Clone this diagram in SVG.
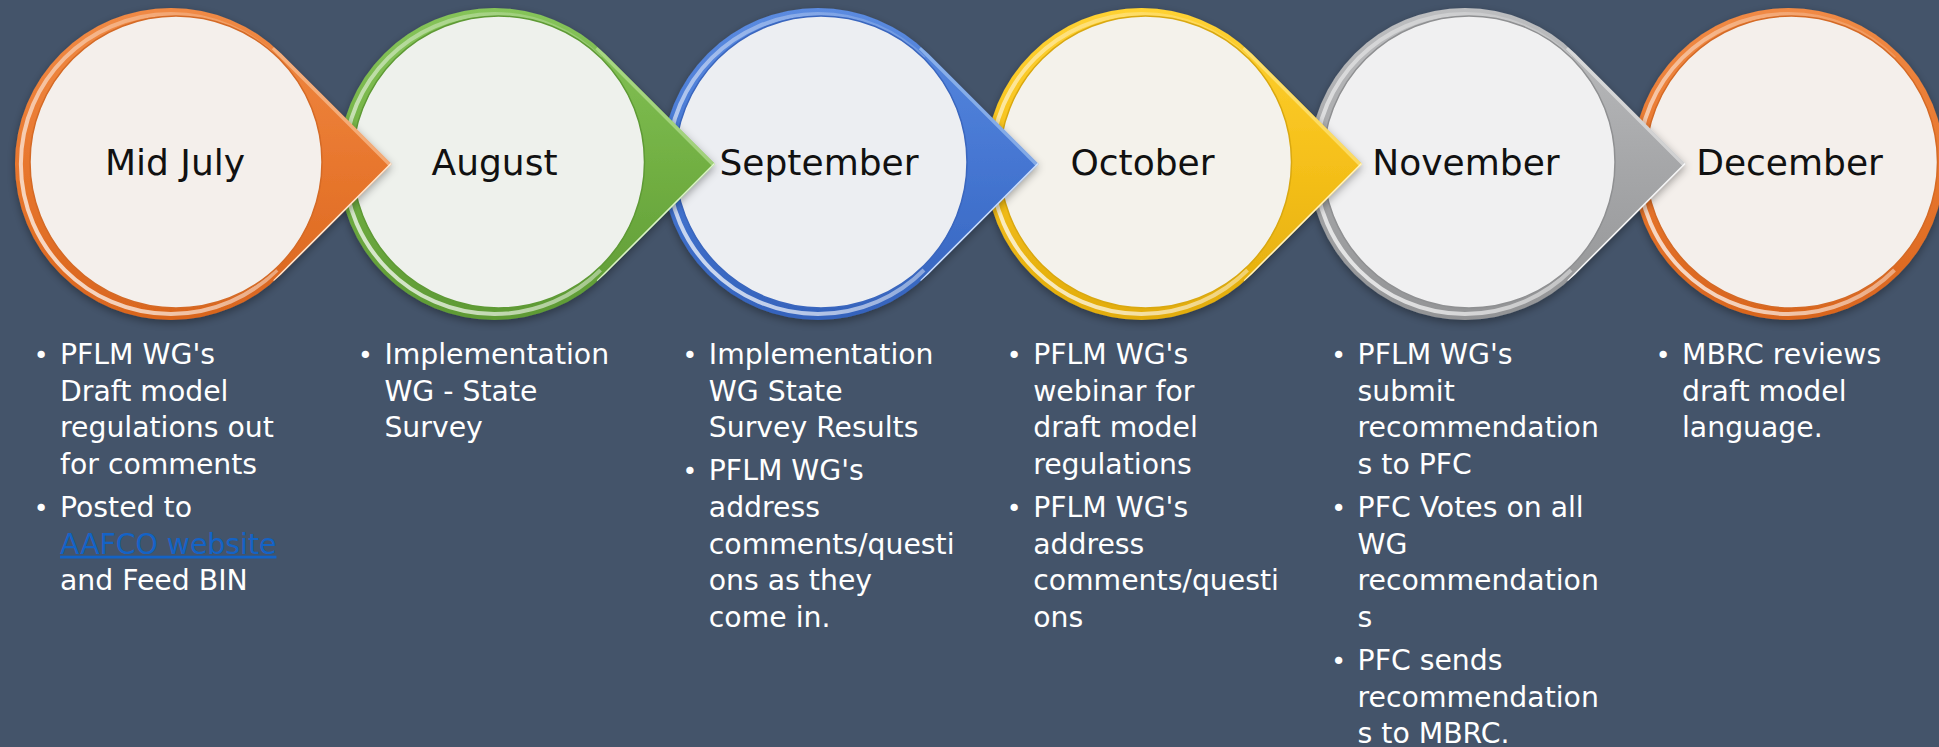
<svg xmlns="http://www.w3.org/2000/svg" xmlns:xlink="http://www.w3.org/1999/xlink" width="1939" height="747" viewBox="0 0 1939 747">
<style>
.h{font-family:"DejaVu Sans","Liberation Sans",sans-serif;font-size:36px;fill:#111;text-anchor:middle}
.b{font-family:"DejaVu Sans","Liberation Sans",sans-serif;font-size:28.3px;fill:#FFFFFF}
.d{font-family:"DejaVu Sans","Liberation Sans",sans-serif;font-size:25px;fill:#FFFFFF;text-anchor:middle}
.lk{fill:#1463C6;text-decoration:underline}
.ed1{fill:none;stroke-width:9;opacity:.55}
.ed2{fill:none;stroke-width:5;opacity:.9}
.hlr{fill:none;stroke:url(#hl);stroke-width:4}
.inr{stroke-width:1.5}
</style>
<defs>
<path id="tear" d="M220.6 0L110.3 110.3A156 156 0 1 1 110.3 -110.3Z"/>
<path id="arc" d="M106 106A150 150 0 1 1 106 -106"/>
<clipPath id="tc"><use href="#tear"/></clipPath>
<filter id="sh" x="-20%" y="-20%" width="140%" height="140%"><feDropShadow dx="0" dy="3" stdDeviation="4" flood-color="#000" flood-opacity="0.35"/></filter>
<linearGradient id="hl" x1="0" y1="1" x2="1" y2="0"><stop offset="0" stop-color="#fff" stop-opacity=".85"/><stop offset=".45" stop-color="#fff" stop-opacity=".5"/><stop offset="1" stop-color="#fff" stop-opacity=".1"/></linearGradient>
<linearGradient id="fO" x1="0" y1="0" x2="0" y2="1"><stop offset="0" stop-color="#F08A45"/><stop offset=".5" stop-color="#E8772E"/><stop offset="1" stop-color="#D9651E"/></linearGradient>
<linearGradient id="fG" x1="0" y1="0" x2="0" y2="1"><stop offset="0" stop-color="#86C45A"/><stop offset=".5" stop-color="#72B043"/><stop offset="1" stop-color="#5E9A35"/></linearGradient>
<linearGradient id="fB" x1="0" y1="0" x2="0" y2="1"><stop offset="0" stop-color="#5B8BE0"/><stop offset=".5" stop-color="#4576D2"/><stop offset="1" stop-color="#3563BC"/></linearGradient>
<linearGradient id="fY" x1="0" y1="0" x2="0" y2="1"><stop offset="0" stop-color="#FFD233"/><stop offset=".5" stop-color="#F5C01A"/><stop offset="1" stop-color="#E2AC0C"/></linearGradient>
<linearGradient id="fS" x1="0" y1="0" x2="0" y2="1"><stop offset="0" stop-color="#BDBEC0"/><stop offset=".5" stop-color="#A6A7A9"/><stop offset="1" stop-color="#939496"/></linearGradient>
</defs>
<rect width="1939" height="747" fill="#44546A"/>
<g id="connectors"/>

<g id="n6">
<g transform="translate(1788.5 164)">
<circle r="156" fill="url(#fO)" filter="url(#sh)"/>
<use class="hlr" href="#arc"/>
<circle class="inr" cx="3" cy="-2" r="146" fill="#F4EFEB" stroke="#D46A26"/>
<text class="h" x="1" y="11">December</text>
</g>
<text class="d" x="1663" y="364">•</text>
<text class="b" x="1682" y="364">MBRC reviews</text>
<text class="b" x="1682" y="400.7">draft model</text>
<text class="b" x="1682" y="437.4">language.</text>
</g>

<g id="n5">
<g transform="translate(1465 164)">
<use href="#tear" fill="url(#fS)" filter="url(#sh)"/>
<g clip-path="url(#tc)"><path class="ed1" d="M104 -118L222 0" stroke="#F2F2F2"/><path class="ed2" d="M222 0L104 118" stroke="#FFFFFF"/></g>
<use class="hlr" href="#arc"/>
<circle class="inr" cx="4" cy="-2" r="146" fill="#F0F0F1" stroke="#8F9092"/>
<text class="h" x="1" y="11">November</text>
</g>
<text class="d" x="1338.6" y="364">•</text>
<text class="b" x="1357.6" y="364">PFLM WG's</text>
<text class="b" x="1357.6" y="400.7">submit</text>
<text class="b" x="1357.6" y="437.4">recommendation</text>
<text class="b" x="1357.6" y="474.1">s to PFC</text>
<text class="d" x="1338.6" y="517">•</text>
<text class="b" x="1357.6" y="517">PFC Votes on all</text>
<text class="b" x="1357.6" y="553.7">WG</text>
<text class="b" x="1357.6" y="590.4">recommendation</text>
<text class="b" x="1357.6" y="627.1">s</text>
<text class="d" x="1338.6" y="670">•</text>
<text class="b" x="1357.6" y="670">PFC sends</text>
<text class="b" x="1357.6" y="706.7">recommendation</text>
<text class="b" x="1357.6" y="743.4">s to MBRC.</text>
</g>

<g id="n4">
<g transform="translate(1141.5 164)">
<use href="#tear" fill="url(#fY)" filter="url(#sh)"/>
<g clip-path="url(#tc)"><path class="ed1" d="M104 -118L222 0" stroke="#FFEE9A"/><path class="ed2" d="M222 0L104 118" stroke="#FFF8D8"/></g>
<use class="hlr" href="#arc"/>
<circle class="inr" cx="4" cy="-2" r="146" fill="#F4F2EB" stroke="#D9A810"/>
<text class="h" x="1" y="11">October</text>
</g>
<text class="d" x="1014.2" y="364">•</text>
<text class="b" x="1033.2" y="364">PFLM WG's</text>
<text class="b" x="1033.2" y="400.7">webinar for</text>
<text class="b" x="1033.2" y="437.4">draft model</text>
<text class="b" x="1033.2" y="474.1">regulations</text>
<text class="d" x="1014.2" y="517">•</text>
<text class="b" x="1033.2" y="517">PFLM WG's</text>
<text class="b" x="1033.2" y="553.7">address</text>
<text class="b" x="1033.2" y="590.4">comments/questi</text>
<text class="b" x="1033.2" y="627.1">ons</text>
</g>

<g id="n3">
<g transform="translate(818 164)">
<use href="#tear" fill="url(#fB)" filter="url(#sh)"/>
<g clip-path="url(#tc)"><path class="ed1" d="M104 -118L222 0" stroke="#B5D3F5"/><path class="ed2" d="M222 0L104 118" stroke="#DDEBFF"/></g>
<use class="hlr" href="#arc"/>
<circle class="inr" cx="3" cy="-2" r="146" fill="#ECEEF2" stroke="#3A66BE"/>
<text class="h" x="1" y="11">September</text>
</g>
<text class="d" x="689.8" y="364">•</text>
<text class="b" x="708.8" y="364">Implementation</text>
<text class="b" x="708.8" y="400.7">WG State</text>
<text class="b" x="708.8" y="437.4">Survey Results</text>
<text class="d" x="689.8" y="480.3">•</text>
<text class="b" x="708.8" y="480.3">PFLM WG's</text>
<text class="b" x="708.8" y="517">address</text>
<text class="b" x="708.8" y="553.7">comments/questi</text>
<text class="b" x="708.8" y="590.4">ons as they</text>
<text class="b" x="708.8" y="627.1">come in.</text>
</g>

<g id="n2">
<g transform="translate(494.5 164)">
<use href="#tear" fill="url(#fG)" filter="url(#sh)"/>
<g clip-path="url(#tc)"><path class="ed1" d="M104 -118L222 0" stroke="#C7EBA8"/><path class="ed2" d="M222 0L104 118" stroke="#E8FAD8"/></g>
<use class="hlr" href="#arc"/>
<circle class="inr" cx="4" cy="-2" r="146" fill="#EEF1EC" stroke="#5E9A35"/>
<text class="h" x="0" y="11">August</text>
</g>
<text class="d" x="365.4" y="364">•</text>
<text class="b" x="384.4" y="364">Implementation</text>
<text class="b" x="384.4" y="400.7">WG - State</text>
<text class="b" x="384.4" y="437.4">Survey</text>
</g>

<g id="n1">
<g transform="translate(171 164)">
<use href="#tear" fill="url(#fO)" filter="url(#sh)"/>
<g clip-path="url(#tc)"><path class="ed1" d="M104 -118L222 0" stroke="#FBD3B0"/><path class="ed2" d="M222 0L104 118" stroke="#FFF4E6"/></g>
<use class="hlr" href="#arc"/>
<circle class="inr" cx="5" cy="-2" r="146" fill="#F4EFEB" stroke="#D46A26"/>
<text class="h" x="4" y="11">Mid July</text>
</g>
<text class="d" x="41" y="364">•</text>
<text class="b" x="60" y="364">PFLM WG's</text>
<text class="b" x="60" y="400.7">Draft model</text>
<text class="b" x="60" y="437.4">regulations out</text>
<text class="b" x="60" y="474.1">for comments</text>
<text class="d" x="41" y="517">•</text>
<text class="b" x="60" y="517">Posted to</text>
<text class="b lk" x="60" y="553.7">AAFCO website</text>
<text class="b" x="60" y="590.4">and Feed BIN</text>
</g>
</svg>
